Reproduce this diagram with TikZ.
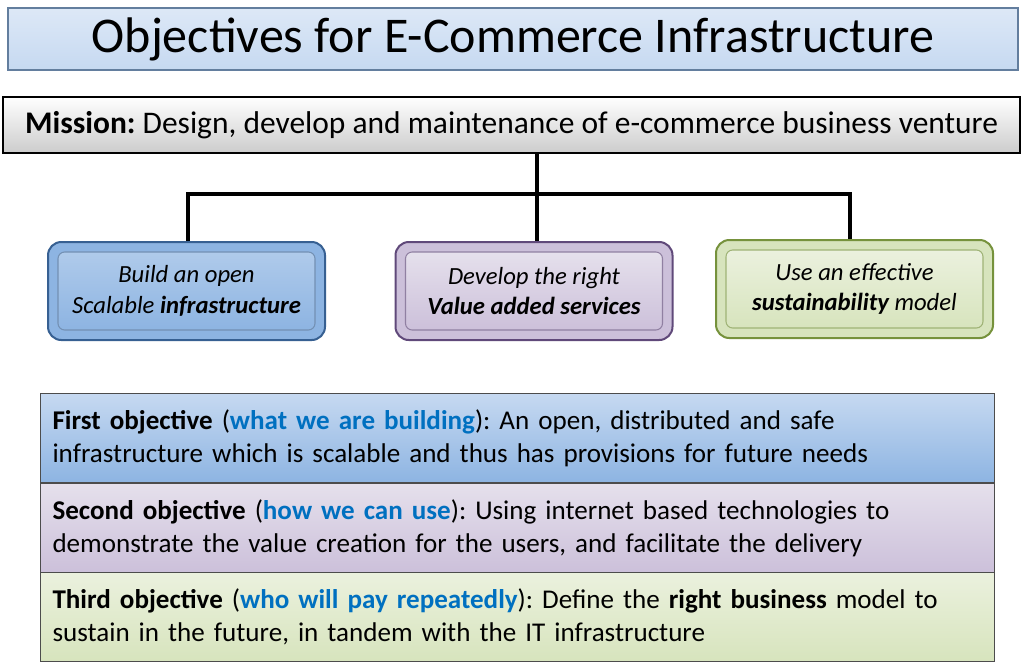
\documentclass[tikz,border=0pt]{standalone}
\usepackage{fontspec}
\setmainfont{Carlito}
\frenchspacing
\definecolor{tb}{RGB}{0,112,192}
\definecolor{bl1}{RGB}{198,217,241}
\definecolor{bl2}{RGB}{141,180,226}
\definecolor{bld}{RGB}{55,96,146}
\definecolor{pu1}{RGB}{229,224,236}
\definecolor{pu2}{RGB}{204,192,218}
\definecolor{pud}{RGB}{96,73,122}
\definecolor{gr1}{RGB}{235,241,222}
\definecolor{gr2}{RGB}{215,228,189}
\definecolor{grd}{RGB}{118,146,60}
\begin{document}
\begin{tikzpicture}[x=0.75pt,y=-0.75pt,
  line/.style={line width=3pt,black},
  obox/.style={rounded corners=10pt,line width=1.5pt},
  ibox/.style={rounded corners=5pt,line width=0.8pt,align=center,font=\fontsize{18.5}{23}\selectfont\itshape},
  bbox/.style={draw=black!70,line width=0.8pt,anchor=north west,minimum width=944*0.75pt,minimum height=89*0.75pt,text width=930*0.75pt,align=left,inner sep=9pt,font=\fontsize{20.3}{24.5}\selectfont}]
\useasboundingbox (0,0) rectangle (1024,668);
\node[draw=bl2!70!black,line width=1.2pt,top color=bl1!60,bottom color=bl1,minimum width=1010*0.75pt,minimum height=62*0.75pt,font=\fontsize{37.5}{42}\selectfont] (title) at (513,39) {Objectives for E-Commerce Infrastructure};
\node[draw=black,line width=1.2pt,top color=white,bottom color=black!20,minimum width=1017*0.75pt,minimum height=56*0.75pt,font=\fontsize{23.6}{26}\selectfont] (mission) at (511.5,125) {\textbf{Mission:} Design, develop and maintenance of e-commerce business venture};
\coordinate (j) at (537,194);
\coordinate (l) at (188,194);
\coordinate (r) at (850,194);
\node[obox,draw=bld,fill=bl2,minimum width=277*0.75pt,minimum height=98*0.75pt] (b1) at (186.5,291) {};
\node[ibox,draw=bld!70,top color=bl2!70,bottom color=bl2,minimum width=257*0.75pt,minimum height=78*0.75pt] (i1) at (186.5,291) {Build an open\\Scalable \textbf{infrastructure}};
\node[obox,draw=pud,fill=pu2,minimum width=277*0.75pt,minimum height=98*0.75pt] (b2) at (534,291) {};
\node[ibox,draw=pud!70,top color=pu1,bottom color=pu2,minimum width=257*0.75pt,minimum height=78*0.75pt] (i2) at (534,291) {Develop the right\\\textbf{Value added services}};
\node[obox,draw=grd,fill=gr2,minimum width=277*0.75pt,minimum height=98*0.75pt] (b3) at (854.5,289) {};
\node[ibox,draw=grd!70,top color=gr1,bottom color=gr2,minimum width=257*0.75pt,minimum height=78*0.75pt] (i3) at (854.5,289) {Use an effective\\\textbf{sustainability} model};
\draw[line] (mission.south -| j) -- (j);
\draw[line] (l |- b1.north) -- (l) -- (r) -- (r |- b3.north);
\draw[line] (j) -- (j |- b2.north);
\node[bbox,top color=bl1,bottom color=bl2] (o1) at (40,393) {\textbf{First objective} (\textbf{\textcolor{tb}{what we are building}}): An open, distributed and safe\\infrastructure which is scalable and thus has provisions for future needs};
\node[bbox,top color=pu1,bottom color=pu2] (o2) at (40,483) {\textbf{Second objective} (\textbf{\textcolor{tb}{how we can use}}): Using internet based technologies to\\demonstrate the value creation for the users, and facilitate the delivery};
\node[bbox,top color=gr1,bottom color=gr2] (o3) at (40,572) {\textbf{Third objective} (\textbf{\textcolor{tb}{who will pay repeatedly}}): Define the \textbf{right business} model to\\sustain in the future, in tandem with the IT infrastructure};
\end{tikzpicture}
\end{document}
